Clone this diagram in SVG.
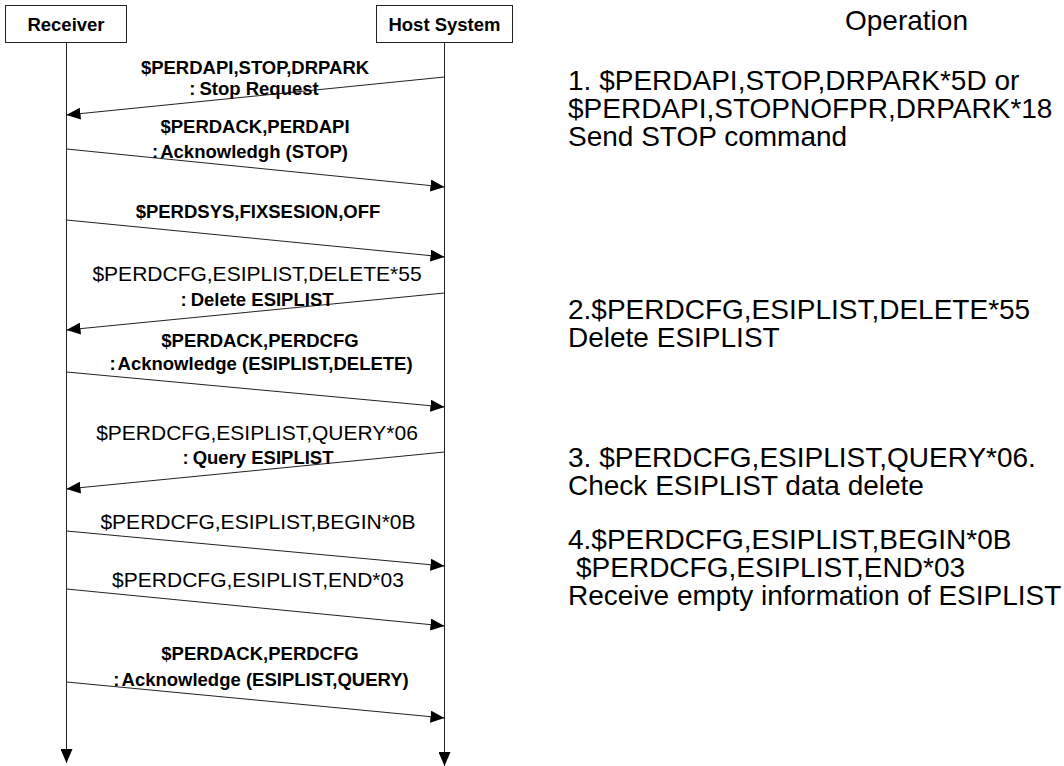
<svg xmlns="http://www.w3.org/2000/svg" width="1064" height="766" viewBox="0 0 1064 766">
<style>
.box{fill:#fff;stroke:#222;stroke-width:1}
.hdr{font-family:"Liberation Sans",Arial,sans-serif;font-weight:bold;font-size:18.5px;fill:#000;text-anchor:middle}
.lb{font-family:"Liberation Sans",Arial,sans-serif;font-weight:bold;font-size:18.5px;fill:#000;text-anchor:middle}
.lr{font-family:"Liberation Sans",Arial,sans-serif;font-size:21px;fill:#000;text-anchor:middle}
.op{font-family:"Liberation Sans",Arial,sans-serif;font-size:28px;fill:#000}
.ln{stroke:#222;stroke-width:1;fill:none;marker-end:url(#ah)}
</style>
<defs>
<marker id="ah" markerUnits="userSpaceOnUse" markerWidth="14" markerHeight="12" refX="14" refY="6" orient="auto" viewBox="0 0 14 12">
<path d="M0,0 L14,6 L0,12 z" fill="#000"/>
</marker>
</defs>
<g id="receiver">
<rect class="box" x="5.5" y="5.5" width="121" height="37"/>
<text class="hdr" x="66" y="31">Receiver</text>
</g>
<g id="host">
<rect class="box" x="376.5" y="5.5" width="136" height="37"/>
<text class="hdr" x="444.5" y="31">Host System</text>
</g>
<g id="connectors">
<line class="ln" x1="66.5" y1="43" x2="66.5" y2="763"/>
<line class="ln" x1="444.5" y1="43" x2="444.5" y2="766"/>
<line class="ln" x1="444.5" y1="77" x2="66.5" y2="115"/>
<line class="ln" x1="66.5" y1="149" x2="444.5" y2="187"/>
<line class="ln" x1="66.5" y1="220" x2="444.5" y2="257"/>
<line class="ln" x1="444.5" y1="293" x2="66.5" y2="330"/>
<line class="ln" x1="66.5" y1="372" x2="444.5" y2="407"/>
<line class="ln" x1="444.5" y1="452" x2="66.5" y2="489"/>
<line class="ln" x1="66.5" y1="531" x2="444.5" y2="566"/>
<line class="ln" x1="66.5" y1="589" x2="444.5" y2="626"/>
<line class="ln" x1="66.5" y1="682" x2="444.5" y2="718"/>
</g>
<g id="labels">
<text class="lb" x="255" y="74">$PERDAPI,STOP,DRPARK</text>
<text class="lb" x="254" y="95">:<tspan dx="4">Stop Request</tspan></text>
<text class="lb" x="255" y="133">$PERDACK,PERDAPI</text>
<text class="lb" x="250" y="158">:<tspan dx="2">Acknowledgh (STOP)</tspan></text>
<text class="lb" x="258" y="218">$PERDSYS,FIXSESION,OFF</text>
<text class="lr" x="257" y="281">$PERDCFG,ESIPLIST,DELETE*55</text>
<text class="lb" x="257" y="306">:<tspan dx="4">Delete ESIPLIST</tspan></text>
<text class="lb" x="260" y="347">$PERDACK,PERDCFG</text>
<text class="lb" x="261" y="370">:<tspan dx="2">Acknowledge (ESIPLIST,DELETE)</tspan></text>
<text class="lr" x="257" y="440">$PERDCFG,ESIPLIST,QUERY*06</text>
<text class="lb" x="258" y="464">:<tspan dx="4">Query ESIPLIST</tspan></text>
<text class="lr" x="258" y="529">$PERDCFG,ESIPLIST,BEGIN*0B</text>
<text class="lr" x="258" y="587">$PERDCFG,ESIPLIST,END*03</text>
<text class="lb" x="260" y="660">$PERDACK,PERDCFG</text>
<text class="lb" x="261" y="686">:<tspan dx="2">Acknowledge (ESIPLIST,QUERY)</tspan></text>
</g>
<g id="operation">
<text class="op" x="845" y="30">Operation</text>
<text class="op" x="568" y="90">1. $PERDAPI,STOP,DRPARK*5D or</text>
<text class="op" x="568" y="118">$PERDAPI,STOPNOFPR,DRPARK*18</text>
<text class="op" x="568" y="146">Send STOP command</text>
<text class="op" x="568" y="319">2.$PERDCFG,ESIPLIST,DELETE*55</text>
<text class="op" x="568" y="347">Delete ESIPLIST</text>
<text class="op" x="568" y="467">3. $PERDCFG,ESIPLIST,QUERY*06.</text>
<text class="op" x="568" y="495">Check ESIPLIST data delete</text>
<text class="op" x="568" y="549">4.$PERDCFG,ESIPLIST,BEGIN*0B</text>
<text class="op" x="576" y="577">$PERDCFG,ESIPLIST,END*03</text>
<text class="op" x="568" y="605">Receive empty information of ESIPLIST</text>
</g>
</svg>
